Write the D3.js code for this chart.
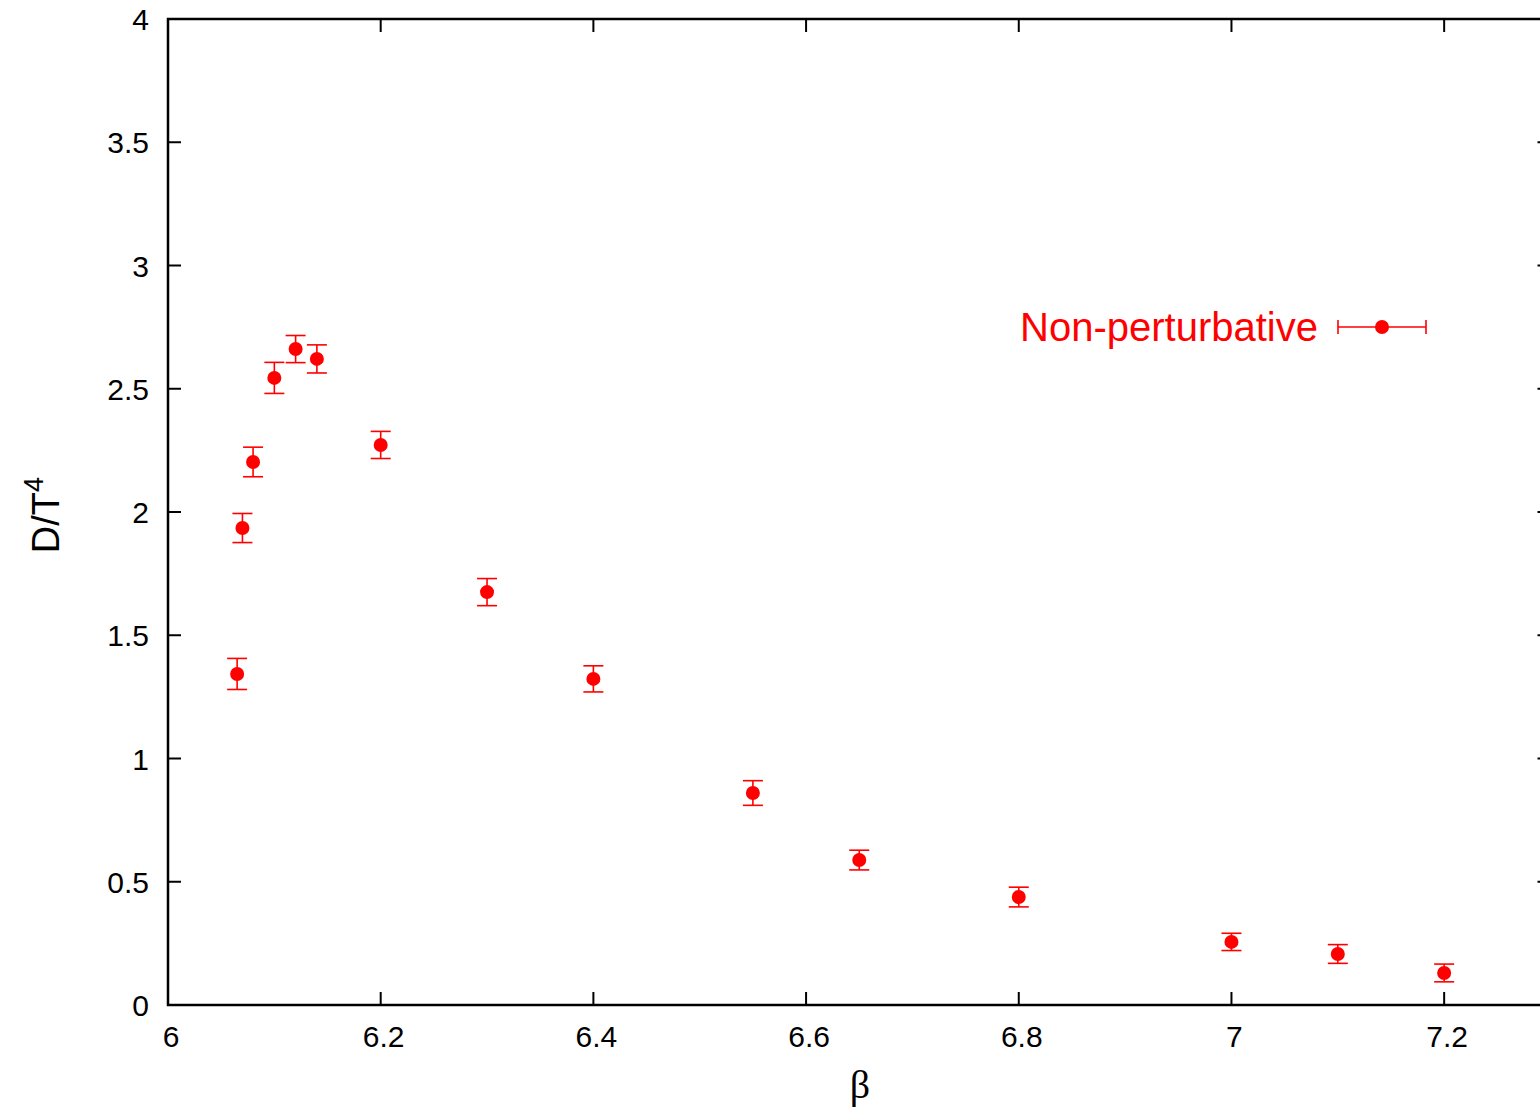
<!DOCTYPE html>
<html>
<head>
<meta charset="utf-8">
<script src="https://cdn.jsdelivr.net/npm/d3@7"></script>
<style>
  body { margin: 0; background: #fff; overflow: hidden; }
  text { font-family: "Liberation Sans", Arial, sans-serif; }
</style>
</head>
<body>
<div id="wrapper"></div>
<script>
// data
let beta = [6.065, 6.07, 6.08, 6.1, 6.12, 6.14, 6.2, 6.3, 6.4, 6.55, 6.65, 6.8, 7.0, 7.1, 7.2];
let dT4  = [1.343, 1.935, 2.203, 2.544, 2.661, 2.621, 2.272, 1.675, 1.323, 0.860, 0.588, 0.438, 0.256, 0.207, 0.130];
let err  = [0.063, 0.059, 0.060, 0.063, 0.055, 0.057, 0.055, 0.055, 0.053, 0.050, 0.040, 0.040, 0.035, 0.038, 0.036];
let xTicks = [6, 6.2, 6.4, 6.6, 6.8, 7, 7.2];
let yTicks = [0, 0.5, 1, 1.5, 2, 2.5, 3, 3.5, 4];

let W = 1540, H = 1107;
let pL = 168, pT = 19, pB = 1005, pR = 1550.5;
let red = '#ff0000';

let svg = d3.select('#wrapper')
    .append('svg')
    .attr('width', W)
    .attr('height', H)
    .style('display', 'block');

let x = d3.scaleLinear().domain([6, 7.3]).range([pL, pR]);
let y = d3.scaleLinear().domain([0, 4]).range([pB, pT]);

// ticks (gnuplot style, inward, mirrored)
let tl = 13;
let g = svg.append('g').attr('stroke', '#000').attr('stroke-width', 2);
xTicks.forEach(function (t) {
    g.append('line').attr('x1', x(t)).attr('x2', x(t)).attr('y1', pB).attr('y2', pB - tl);
    g.append('line').attr('x1', x(t)).attr('x2', x(t)).attr('y1', pT).attr('y2', pT + tl);
});
yTicks.forEach(function (t) {
    g.append('line').attr('x1', pL).attr('x2', pL + tl).attr('y1', y(t)).attr('y2', y(t));
    g.append('line').attr('x1', pR).attr('x2', pR - tl).attr('y1', y(t)).attr('y2', y(t));
});
svg.append('rect')
    .attr('x', pL).attr('y', pT)
    .attr('width', pR - pL).attr('height', pB - pT)
    .attr('fill', 'none').attr('stroke', '#000').attr('stroke-width', 2.5);

svg.selectAll('.xt').data(xTicks).enter().append('text')
    .attr('x', function (d) { return x(d) + 3 })
    .attr('y', 1047)
    .attr('text-anchor', 'middle')
    .style('font-size', '30px')
    .text(function (d) { return d3.format('')(d) });

svg.selectAll('.yt').data(yTicks).enter().append('text')
    .attr('x', 149)
    .attr('y', function (d) { return y(d) + 11 })
    .attr('text-anchor', 'end')
    .style('font-size', '30px')
    .text(function (d) { return d3.format('')(d) });

// axis labels
svg.append('text')
    .attr('x', 860).attr('y', 1098)
    .attr('text-anchor', 'middle')
    .style('font-family', '"Liberation Serif", serif')
    .style('font-size', '40px')
    .text('β');

let yl = svg.append('text')
    .attr('transform', 'translate(59,515) rotate(-90)')
    .attr('text-anchor', 'middle')
    .style('font-size', '38px');
yl.append('tspan').text('D/T');
yl.append('tspan').attr('dy', -16).style('font-size', '27px').text('4');

// points with error bars
let pts = beta.map(function (b, i) { return { x: b, y: dT4[i], e: err[i] } });
let cap = 10;
let eb = svg.append('g').attr('stroke', red).attr('stroke-width', 1.6);
pts.forEach(function (d) {
    let cx = x(d.x), y1 = y(d.y + d.e), y2 = y(d.y - d.e);
    eb.append('line').attr('x1', cx).attr('x2', cx).attr('y1', y1).attr('y2', y2);
    eb.append('line').attr('x1', cx - cap).attr('x2', cx + cap).attr('y1', y1).attr('y2', y1);
    eb.append('line').attr('x1', cx - cap).attr('x2', cx + cap).attr('y1', y2).attr('y2', y2);
});
svg.append('g').selectAll('circle')
    .data(pts)
    .enter()
    .append('circle')
    .attr('cx', function (d) { return x(d.x) })
    .attr('cy', function (d) { return y(d.y) })
    .attr('r', 7)
    .style('fill', red);

// legend
let ly = 327;
svg.append('text')
    .attr('x', 1318).attr('y', ly + 14)
    .attr('text-anchor', 'end')
    .style('font-size', '40px')
    .style('fill', red)
    .text('Non-perturbative');
let lg = svg.append('g').attr('stroke', red).attr('stroke-width', 1.6);
lg.append('line').attr('x1', 1338).attr('x2', 1426).attr('y1', ly).attr('y2', ly);
lg.append('line').attr('x1', 1338).attr('x2', 1338).attr('y1', ly - 7).attr('y2', ly + 7);
lg.append('line').attr('x1', 1426).attr('x2', 1426).attr('y1', ly - 7).attr('y2', ly + 7);
svg.append('circle').attr('cx', 1382).attr('cy', ly).attr('r', 7).style('fill', red);
</script>
</body>
</html>
